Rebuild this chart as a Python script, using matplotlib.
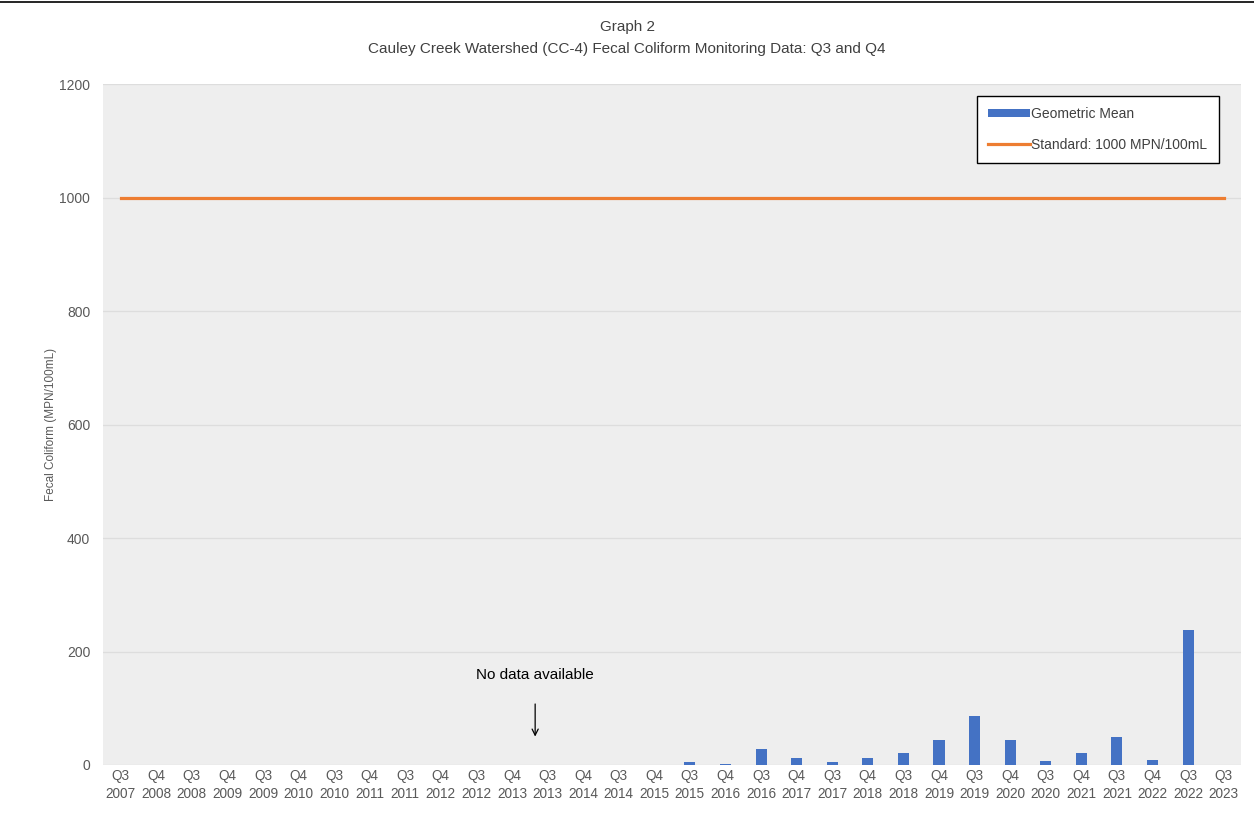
import numpy as np
import matplotlib.pyplot as plt
from matplotlib.lines import Line2D
from matplotlib.patches import Patch

plt.rcParams['font.family'] = ['Liberation Sans', 'DejaVu Sans']

quarters = ["Q3", "Q4", "Q3", "Q4", "Q3", "Q4", "Q3", "Q4", "Q3", "Q4", "Q3",
            "Q4", "Q3", "Q4", "Q3", "Q4", "Q3", "Q4", "Q3", "Q4", "Q3", "Q4",
            "Q3", "Q4", "Q3", "Q4", "Q3", "Q4", "Q3", "Q4", "Q3", "Q3"]
years = ["2007", "2008", "2008", "2009", "2009", "2010", "2010", "2011", "2011",
         "2012", "2012", "2013", "2013", "2014", "2014", "2015", "2015", "2016",
         "2016", "2017", "2017", "2018", "2018", "2019", "2019", "2020", "2020",
         "2021", "2021", "2022", "2022", "2023"]
# geometric mean, MPN/100mL (NaN = no data)
geo_mean = [np.nan] * 16 + [6, 2, 28, 12, 5, 12, 21, 44, 87, 44, 7, 21, 50, 8, 238, np.nan]
standard = 1000

labels = [q + "\n" + y for q, y in zip(quarters, years)]
x = np.arange(len(labels))

fig = plt.figure(figsize=(12.54, 8.19), dpi=100)
ax = fig.add_axes([0.082, 0.066, 0.908, 0.831])
ax.set_facecolor("#eeeeee")

ax.bar(x, np.nan_to_num(geo_mean), width=0.31, color="#4472C4", zorder=3)
ax.plot(x, [standard] * len(x), color="#ED7D31", linewidth=2.3, zorder=4)

ax.set_xlim(-0.5, len(x) - 0.5)
ax.set_ylim(0, 1200)
ax.set_yticks(range(0, 1201, 200))
ax.set_xticks(x)
ax.set_xticklabels(labels, fontsize=9.8, color="#595959", linespacing=1.35)
ax.tick_params(axis="y", labelsize=10, colors="#595959", length=0, pad=9)
ax.tick_params(axis="x", length=0, pad=3)
ax.grid(axis="y", color="#dddddd", linewidth=0.9, zorder=0)
for s in ax.spines.values():
    s.set_visible(False)

ax.set_ylabel("Fecal Coliform (MPN/100mL)", fontsize=8.5, color="#595959", labelpad=2)

fig.text(0.5, 0.967, "Graph 2", ha="center", va="center", fontsize=11, color="#404040")
fig.text(0.5, 0.940, "Cauley Creek Watershed (CC-4) Fecal Coliform Monitoring Data: Q3 and Q4",
         ha="center", va="center", fontsize=11, color="#404040")

ax.annotate("No data available", xy=(11.65, 50), xytext=(11.65, 159), ha="center", va="center",
            fontsize=11, color="black",
            arrowprops=dict(arrowstyle="->", color="black", lw=0.9, shrinkA=14, shrinkB=0))

handles = [Patch(facecolor="#4472C4", label="Geometric Mean"),
           Line2D([0], [0], color="#ED7D31", linewidth=2.3, label="Standard: 1000 MPN/100mL")]
leg = ax.legend(handles=handles, loc="upper right", bbox_to_anchor=(0.986, 0.993),
                fontsize=10, frameon=True, fancybox=False, edgecolor="black",
                facecolor="white", framealpha=1, borderpad=0.8, labelspacing=1.2,
                handlelength=3.0, handleheight=0.5, handletextpad=0.1)
for t in leg.get_texts():
    t.set_color("#404040")
leg.get_frame().set_linewidth(1.0)

fig.add_artist(Line2D([0, 1], [0.997, 0.997], color="black", linewidth=1.2))

fig.savefig("out.png", dpi=100)
